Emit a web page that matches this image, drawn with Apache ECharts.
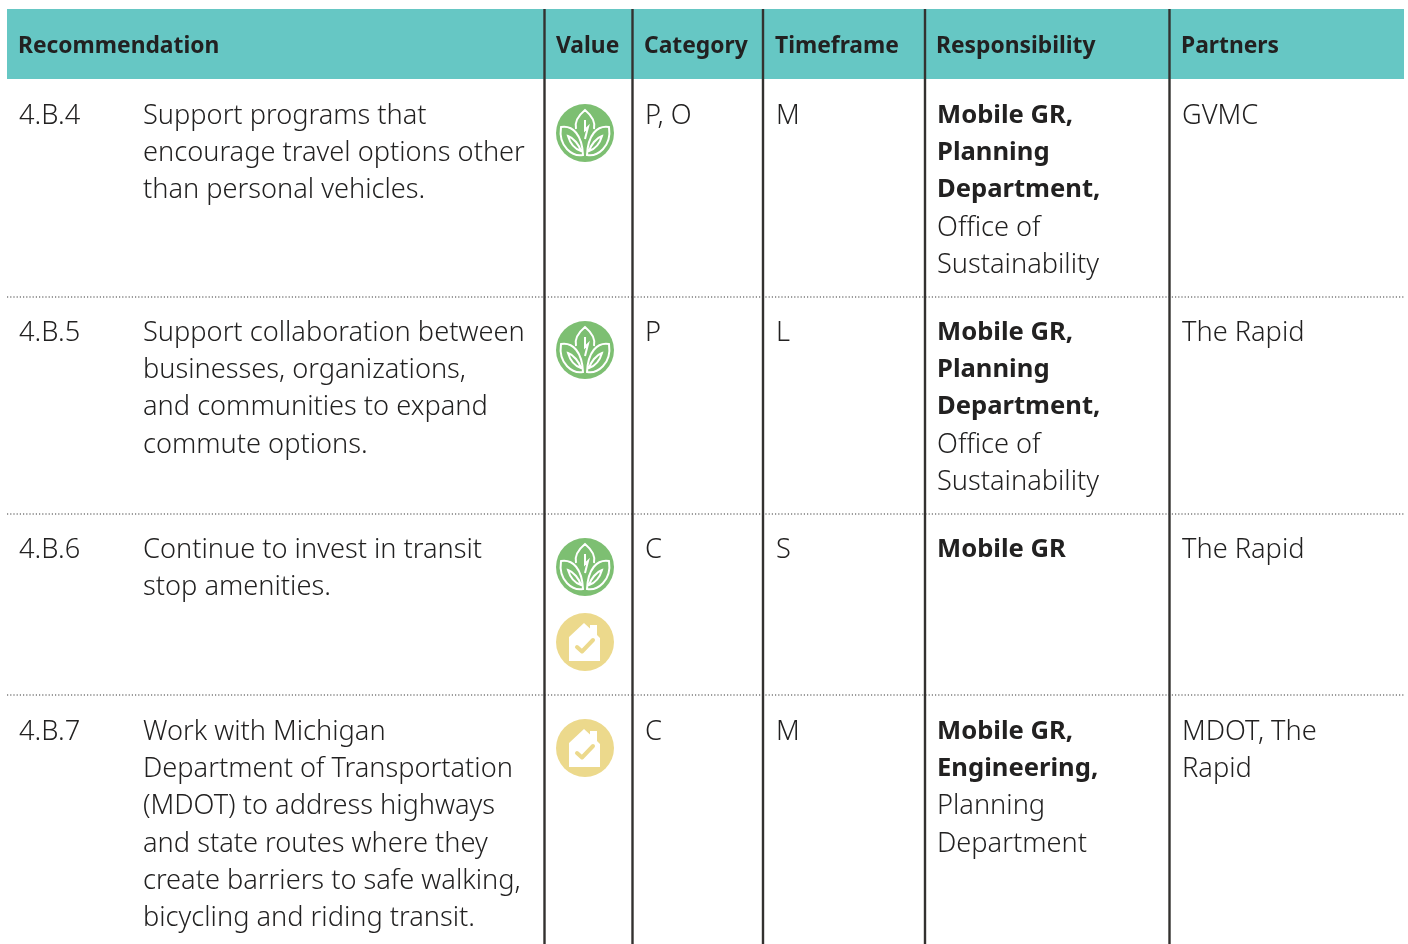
<!DOCTYPE html>
<html><head><meta charset="utf-8">
<style>html,body{margin:0;padding:0;background:#fff}#c{width:1408px;height:944px}</style>
<script src="https://cdn.jsdelivr.net/npm/echarts@6/dist/echarts.min.js"></script>
</head><body><div id="c"></div>
<script>
const headers = ['Recommendation','Value','Category','Timeframe','Responsibility','Partners'];
const ids = ['4.B.4','4.B.5','4.B.6','4.B.7'];
const recommendations = [
 ['Support programs that','encourage travel options other','than personal vehicles.'],
 ['Support collaboration between','businesses, organizations,','and communities to expand','commute options.'],
 ['Continue to invest in transit','stop amenities.'],
 ['Work with Michigan','Department of Transportation','(MDOT) to address highways','and state routes where they','create barriers to safe walking,','bicycling and riding transit.']
];
const values = [['leaf'],['leaf'],['leaf','house'],['house']];
const categories = ['P, O','P','C','C'];
const timeframes = ['M','L','S','M'];
const responsibilityBold = [
 ['Mobile GR,','Planning','Department,'],
 ['Mobile GR,','Planning','Department,'],
 ['Mobile GR'],
 ['Mobile GR,','Engineering,']
];
const responsibilityPlain = [
 ['Office of','Sustainability'],
 ['Office of','Sustainability'],
 [],
 ['Planning','Department']
];
const partners = [['GVMC'],['The Rapid'],['The Rapid'],['MDOT, The','Rapid']];

const FONT='"Noto Sans"', INK='#222121', TEAL='#66c7c4', GREEN='#7dbf72', YELLOW='#ecd98c';
const SIZE=27.2, LH=37.3;
const colLines=[544.5,632.5,763,925,1169.5];
const headerX=[18,556,644,775,936,1181];
const rowBase=[129.5,346.5,563.5,745.5];
const dividers=[297,514,695];
const iconY=[[133],[350],[567,642],[748]];
const LEAF='M-9,-4C-11,-12 -6,-18 0,-23C6,-18 11,-12 9,-4M-24,-6C-12,-8 -3,2 -2,22C-12,24 -27,14 -24,-6ZM24,-6C12,-8 3,2 2,22C12,24 27,14 24,-6ZM-17,3C-11,5 -6,12 -4,18C-10,16 -15,10 -17,3ZM17,3C11,5 6,12 4,18C10,16 15,10 17,3ZM0,-13L0,-3L3,-6L0,6';
const HOUSE='M-1,-19L5,-13.5L5,-17L12,-17L12,-7L15,-4L15,19L-16,19L-16,-5Z';
const CHECK='M-8,5L-3,9.5L8,-2';
echarts.graphic.registerShape('leafIcon',echarts.graphic.extendPath(LEAF,{}));
echarts.graphic.registerShape('houseIcon',echarts.graphic.extendPath(HOUSE,{}));
echarts.graphic.registerShape('checkIcon',echarts.graphic.extendPath(CHECK,{}));
const g=[];
g.push({type:'rect',shape:{x:7,y:9,width:1397,height:70},style:{fill:TEAL},silent:true});
colLines.forEach(x=>g.push({type:'line',shape:{x1:x,y1:9,x2:x,y2:944},style:{stroke:'#33312f',lineWidth:2.4}}));
dividers.forEach(y=>g.push({type:'line',shape:{x1:7,y1:y,x2:1404,y2:y},style:{stroke:'#3a3a3a',lineWidth:1.2,lineDash:[1.2,2]}}));
function txt(s,x,y,bold,size){g.push({type:'text',x:x,y:y,style:{text:s,fill:INK,font:(bold?'700 ':'300 ')+(size||SIZE)+'px '+FONT,textAlign:'left',verticalAlign:'bottom'}});}
headers.forEach((h,i)=>txt(h,headerX[i],58,true,22.8));
function icon(kind,y){
 const cx=585;
 g.push({type:'circle',shape:{cx:cx,cy:y,r:29},style:{fill:kind==='leaf'?GREEN:YELLOW}});
 if(kind==='leaf'){
  g.push({type:'leafIcon',x:cx,y:y,shape:{},style:{fill:'none',stroke:'#fff',lineWidth:2}});
 } else {
  g.push({type:'houseIcon',x:cx,y:y,shape:{},style:{fill:'#fff'}});
  g.push({type:'checkIcon',x:cx,y:y,shape:{},style:{fill:'none',stroke:YELLOW,lineWidth:4,lineCap:'round',lineJoin:'round'}});
 }
}
ids.forEach((id,r)=>{
 const b=rowBase[r];
 txt(id,19,b);
 recommendations[r].forEach((s,i)=>txt(s,143,b+i*LH));
 values[r].forEach((k,i)=>icon(k,iconY[r][i]));
 txt(categories[r],645,b);
 txt(timeframes[r],776,b);
 const bn=responsibilityBold[r].length;
 responsibilityBold[r].forEach((s,i)=>txt(s,937,b-1+i*LH,true,25.6));
 responsibilityPlain[r].forEach((s,i)=>txt(s,937,b+(i+bn)*LH));
 partners[r].forEach((s,i)=>txt(s,1182,b+i*LH));
});
const chart=echarts.init(document.getElementById('c'),null,{renderer:'canvas'});
chart.setOption({animation:false,backgroundColor:'#fff',graphic:{elements:g}});
</script></body></html>
